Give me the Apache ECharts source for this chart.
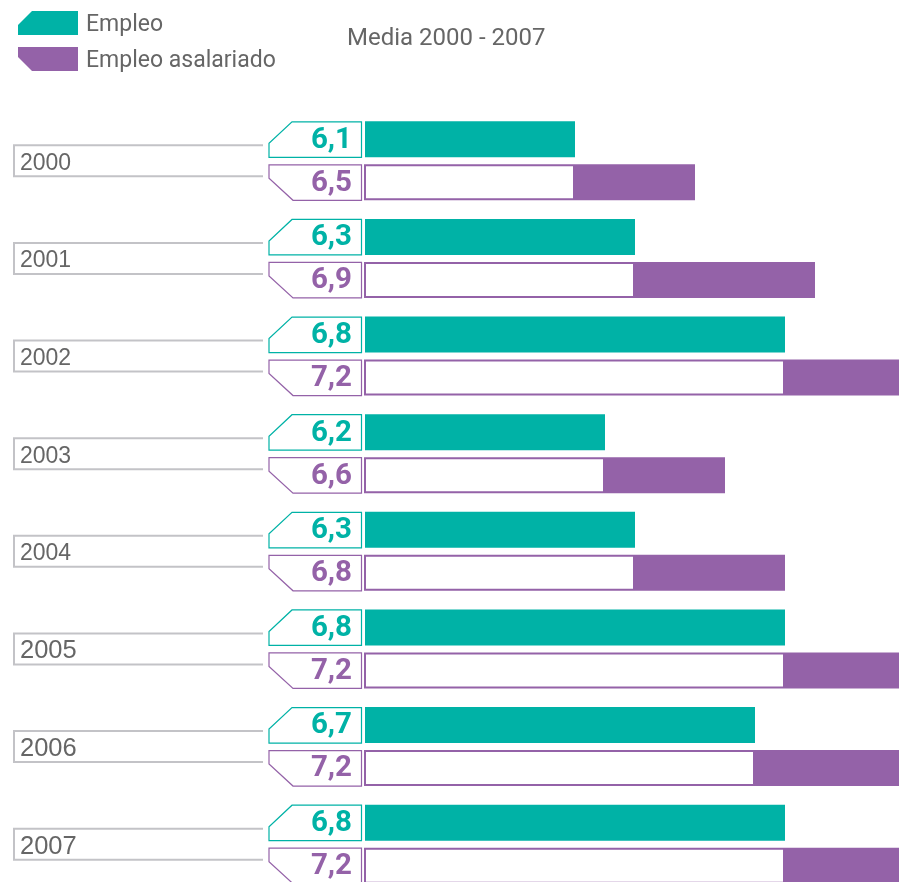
<!DOCTYPE html>
<html>
<head>
<meta charset="utf-8">
<script src="https://cdn.jsdelivr.net/npm/echarts@6/dist/echarts.min.js"></script>
<style>
html,body{margin:0;padding:0;background:#fff;}
#main{width:899px;height:882px;}
</style>
</head>
<body>
<div id="main"></div>
<script>
// ---- data ----
const years = ['2000', '2001', '2002', '2003', '2004', '2005', '2006', '2007'];
const empleo = [6.1, 6.3, 6.8, 6.2, 6.3, 6.8, 6.7, 6.8];
const asalariado = [6.5, 6.9, 7.2, 6.6, 6.8, 7.2, 7.2, 7.2];
const seriesNames = ['Empleo', 'Empleo asalariado'];
const titleText = 'Media 2000 - 2007';
const X_MIN = 5.4;
const X_MAX = 7.2;

// ---- style ----
const TEAL = '#00B2A6';
const PURPLE = '#9462A8';
const GRAY_LINE = '#c3c3c7';
const TEXT_GRAY = '#666666';
const yearFontSizes = [23, 23, 23, 23, 23, 25.5, 25.5, 25.5];
const BAR_W = 36;
const BAR_GAP_PX = 7;

const fmt = v => v.toFixed(1).replace('.', ',');
const diff = asalariado.map((v, i) => +(v - empleo[i]).toFixed(2));

const chart = echarts.init(document.getElementById('main'));

function renderLabels(params, api) {
  const i = api.value(1);
  const p = api.coord([X_MIN, i]);
  const x0 = p[0], cy = p[1];
  const tT = cy - BAR_GAP_PX / 2 - BAR_W, tB = cy - BAR_GAP_PX / 2;
  const pT = cy + BAR_GAP_PX / 2, pB = cy + BAR_GAP_PX / 2 + BAR_W;
  const L = x0 - 96, R = x0 - 3.5;
  const ch = 23;
  const yearL = x0 - 351, yearR = x0 - 102;
  return {
    type: 'group',
    children: [
      { type: 'polyline', shape: { points: [[yearR, cy - 15.5], [yearL, cy - 15.5], [yearL, cy + 15.5], [yearR, cy + 15.5]] },
        style: { fill: null, stroke: GRAY_LINE, lineWidth: 2 } },
      { type: 'text', style: { text: years[i], x: yearL + 6, y: cy + 2.5, align: 'left', verticalAlign: 'middle',
        font: 'normal ' + yearFontSizes[i] + 'px "Liberation Sans", Arial, sans-serif', fill: TEXT_GRAY } },
      { type: 'polygon', shape: { points: [[L + ch, tT + 0.5], [R, tT + 0.5], [R, tB], [L, tB], [L, tT + 22]] },
        style: { fill: '#fff', stroke: TEAL, lineWidth: 1.2 } },
      { type: 'text', style: { text: fmt(api.value(0)), x: R - 9.5, y: (tT + tB) / 2 + 1, align: 'right', verticalAlign: 'middle',
        font: 'bold 29.5px Roboto, sans-serif', fill: TEAL } },
      { type: 'polygon', shape: { points: [[L, pT + 0.5], [R, pT + 0.5], [R, pB], [L + ch + 1, pB], [L, pT + 14]] },
        style: { fill: '#fff', stroke: PURPLE, lineWidth: 1.2 } },
      { type: 'text', style: { text: fmt(api.value(2)), x: R - 9.5, y: (pT + pB) / 2 + 1, align: 'right', verticalAlign: 'middle',
        font: 'bold 29.5px Roboto, sans-serif', fill: PURPLE } }
    ]
  };
}

const gapPct = (BAR_GAP_PX / BAR_W * 100).toFixed(2) + '%';

chart.setOption({
  animation: false,
  backgroundColor: '#fff',
  title: {
    text: titleText, left: 347, top: 27, padding: 0,
    textStyle: { fontSize: 24, fontWeight: 'normal', color: TEXT_GRAY, fontFamily: 'Roboto' }
  },
  legend: {
    orient: 'vertical', left: 18, top: 11, padding: 0,
    itemWidth: 60, itemHeight: 24, itemGap: 10,
    formatter: '{t|{name}}',
    textStyle: {
      fontSize: 23, color: TEXT_GRAY, fontFamily: 'Roboto',
      rich: { t: { fontSize: 23, color: TEXT_GRAY, fontFamily: 'Roboto', padding: [5, 0, 0, 3] } }
    },
    data: [
      { name: seriesNames[0], icon: 'path://M14,0 L60,0 L60,24 L0,24 L0,14 Z' },
      { name: seriesNames[1], icon: 'path://M0,0 L60,0 L60,24 L14,24 L0,10 Z' }
    ],
    selectedMode: false
  },
  grid: { left: 365, top: 112, width: 540, height: 781, outerBoundsMode: 'none', containLabel: false },
  xAxis: { type: 'value', min: X_MIN, max: X_MAX, show: false },
  yAxis: { type: 'category', data: years, inverse: true, show: false },
  series: [
    { name: seriesNames[0], type: 'bar', data: empleo, barWidth: BAR_W, barGap: gapPct,
      itemStyle: { color: TEAL }, silent: true },
    { name: 'base', type: 'bar', stack: 'asal', data: empleo, barWidth: BAR_W, barGap: gapPct,
      itemStyle: { color: '#fff', borderColor: PURPLE, borderWidth: 2 }, silent: true },
    { name: seriesNames[1], type: 'bar', stack: 'asal', data: diff, barWidth: BAR_W, barGap: gapPct,
      itemStyle: { color: PURPLE }, silent: true },
    { name: 'labels', type: 'custom', silent: true, z: 5,
      encode: { x: 0, y: 1 },
      data: years.map((y, i) => [empleo[i], i, asalariado[i]]),
      renderItem: renderLabels }
  ]
});
</script>
</body>
</html>
